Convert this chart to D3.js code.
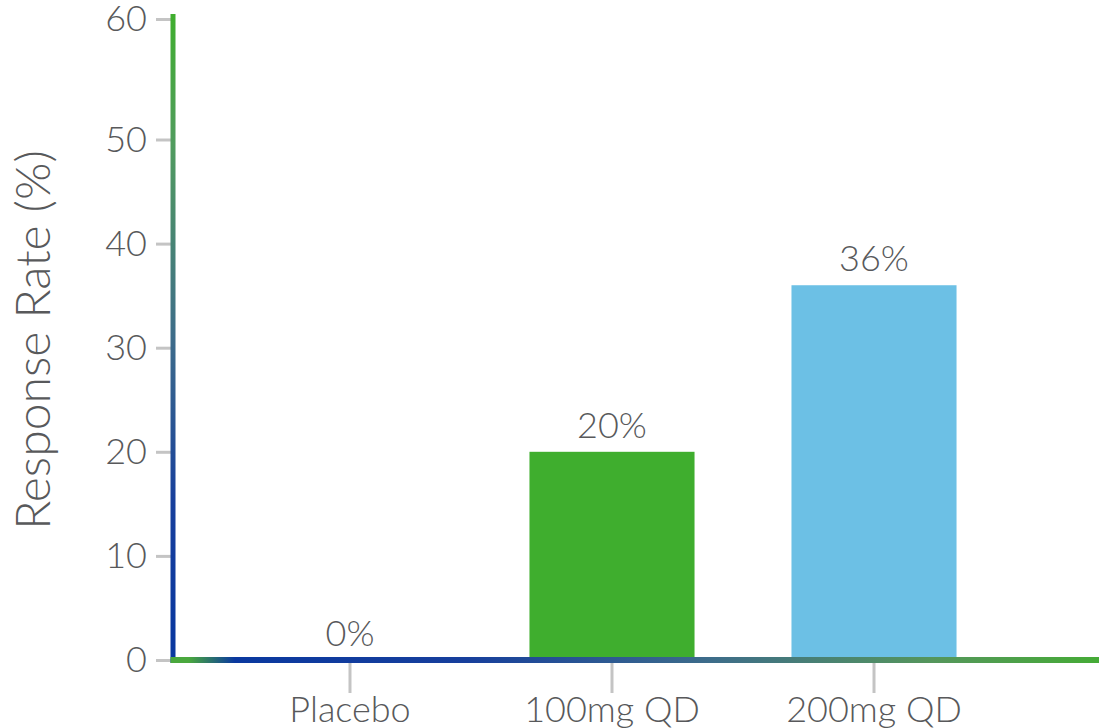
<!DOCTYPE html>
<html>
<head>
<meta charset="utf-8">
<script src="https://cdn.jsdelivr.net/npm/d3@7"></script>
<style>
  html, body { margin: 0; padding: 0; background: #fff; }
  svg text { font-family: Lato, "Open Sans", sans-serif; font-weight: 300; fill: #58595b; }
</style>
</head>
<body>
<svg id="chart" width="1099" height="728"></svg>
<script>
// Response rate by treatment arm
const categories = ["Placebo", "100mg QD", "200mg QD"];
const responseRates = [0, 20, 36];
const valueLabels = ["0%", "20%", "36%"];
const barColors = ["#3fae2e", "#3fae2e", "#6cc0e5"];
const yTicks = [0, 10, 20, 30, 40, 50, 60];

const svg = d3.select("#chart");

const axisX = 173;      // vertical axis line position
const baseY = 660;      // horizontal axis line position

// y scale: top tick sits at the very top of the axis
const y = d3.scaleLinear().domain([0, 50, 60]).range([baseY, 139.5, 19]);

const x = d3.scaleBand()
  .domain(categories)
  .range([170, 1054])
  .paddingInner(0.37)
  .paddingOuter(0.372);

// gradients for the axis lines
const defs = svg.append("defs");
const gy = defs.append("linearGradient")
  .attr("id", "gradY").attr("gradientUnits", "userSpaceOnUse")
  .attr("x1", 0).attr("y1", 14).attr("x2", 0).attr("y2", 664);
[[0, "#3fae2e"], [0.2, "#519c5e"], [0.5, "#3d6c8a"], [0.75, "#173f9c"], [0.95, "#0a389f"], [1, "#0a389f"]]
  .forEach(([o, c]) => gy.append("stop").attr("offset", o).attr("stop-color", c));

const gx = defs.append("linearGradient")
  .attr("id", "gradX").attr("gradientUnits", "userSpaceOnUse")
  .attr("x1", 170).attr("y1", 0).attr("x2", 1099).attr("y2", 0);
[[0, "#4aa83d"], [0.02, "#4aa83d"], [0.07, "#0a389f"], [0.32, "#173f9c"], [0.58, "#3d6c8a"], [0.82, "#55965c"], [1, "#45ab36"]]
  .forEach(([o, c]) => gx.append("stop").attr("offset", o).attr("stop-color", c));

// bars
svg.append("g").selectAll("rect")
  .data(categories)
  .join("rect")
  .attr("x", d => x(d))
  .attr("width", x.bandwidth())
  .attr("y", (d, i) => y(responseRates[i]))
  .attr("height", (d, i) => baseY - y(responseRates[i]))
  .attr("fill", (d, i) => barColors[i]);

// value labels
svg.append("g").selectAll("text")
  .data(categories)
  .join("text")
  .attr("x", d => x(d) + x.bandwidth() / 2)
  .attr("y", (d, i) => y(responseRates[i]) - 14)
  .attr("text-anchor", "middle")
  .attr("font-size", 36)
  .text((d, i) => valueLabels[i]);

// y axis
const yAxis = svg.append("g")
  .attr("transform", `translate(${axisX},0)`)
  .call(d3.axisLeft(y).tickValues(yTicks).tickSize(17).tickPadding(9).tickSizeOuter(0));
yAxis.select(".domain").remove();
yAxis.selectAll(".tick line").attr("stroke", "#c4c4c4").attr("stroke-width", 3);
yAxis.selectAll(".tick text")
  .attr("font-size", 36).attr("fill", "#58595b")
  .attr("font-family", "Lato, sans-serif").attr("font-weight", 300);

// x axis
const xAxis = svg.append("g")
  .attr("transform", `translate(0,${baseY})`)
  .call(d3.axisBottom(x).tickSize(33).tickPadding(3).tickSizeOuter(0));
xAxis.select(".domain").remove();
xAxis.selectAll(".tick line").attr("stroke", "#c4c4c4").attr("stroke-width", 3);
xAxis.selectAll(".tick text")
  .attr("font-size", 36).attr("fill", "#58595b")
  .attr("font-family", "Lato, sans-serif").attr("font-weight", 300);

// axis lines with colour gradients
svg.append("line")
  .attr("x1", axisX).attr("x2", axisX)
  .attr("y1", 14).attr("y2", baseY + 3)
  .attr("stroke", "url(#gradY)").attr("stroke-width", 5);
svg.append("line")
  .attr("x1", axisX - 2.5).attr("x2", 1099)
  .attr("y1", baseY).attr("y2", baseY)
  .attr("stroke", "url(#gradX)").attr("stroke-width", 6);

// y axis title
svg.append("text")
  .attr("transform", `translate(50,340) rotate(-90)`)
  .attr("text-anchor", "middle")
  .attr("font-size", 48)
  .attr("font-weight", 400)
  .text("Response Rate (%)");
</script>
</body>
</html>
